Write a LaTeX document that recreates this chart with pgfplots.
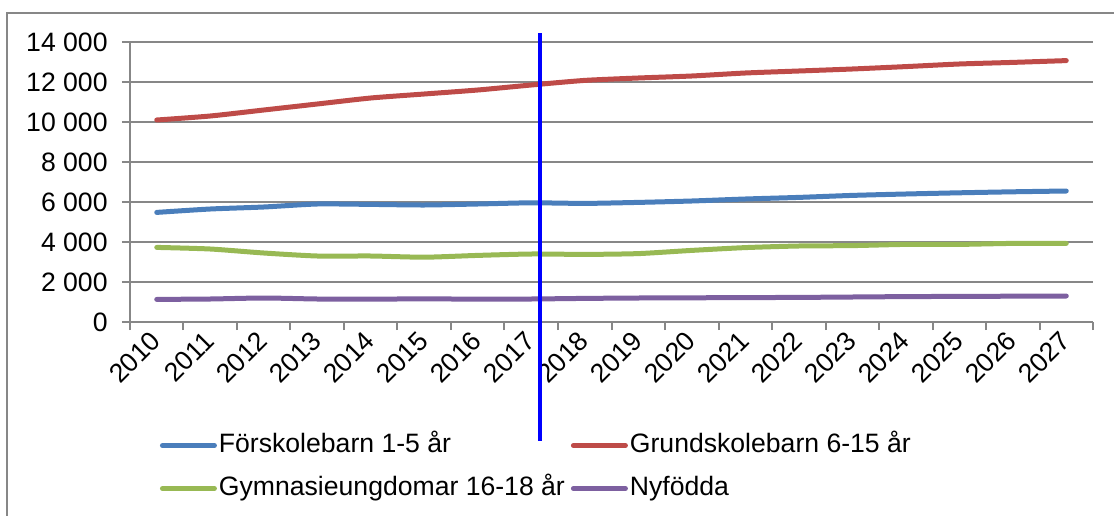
\documentclass[border=0pt]{standalone}
\usepackage{fontspec}
\setmainfont{Liberation Sans}
\usepackage{pgfplots}
\pgfplotsset{compat=1.18}

\definecolor{cBlue}{HTML}{4A7EBB}
\definecolor{cRed}{HTML}{BE4B48}
\definecolor{cGreen}{HTML}{98B954}
\definecolor{cPurple}{HTML}{7D60A0}
\definecolor{cGrid}{HTML}{878787}

\newcommand\cf{\fontsize{13.3pt}{16pt}\selectfont}

\begin{document}
\begin{tikzpicture}
\useasboundingbox (-65pt,-96.5pt) rectangle (492pt,161pt);
\draw[cGrid, line width=0.75pt] (-61.5pt,-100pt) -- (-61.5pt,154.5pt) -- (495pt,154.5pt);
\begin{axis}[
  at={(0,0)}, anchor=south west,
  width=481.5pt, height=140pt, scale only axis,
  xmin=-0.5, xmax=17.5, ymin=0, ymax=14000,
  clip=false,
  axis x line*=bottom, axis y line*=left,
  axis line style={-, cGrid, line width=1pt},
  tick align=outside,
  major tick length=4pt,
  tick style={cGrid, line width=1pt},
  ytick={0,2000,...,14000},
  scaled y ticks=false,
  ymajorgrids, grid style={cGrid, line width=1pt},
  xtick={-0.5,0.5,...,17.5}, xticklabels={},
  extra x ticks={0,...,17},
  extra x tick labels={2010,2011,2012,2013,2014,2015,2016,2017,2018,2019,2020,2021,2022,2023,2024,2025,2026,2027},
  extra x tick style={major tick length=0pt, grid=none,
    tick label style={xshift=-3.9pt, yshift=-3.5pt, rotate=45, anchor=north east, inner sep=0pt}},
  tick label style={font=\cf},
  yticklabel style={anchor=east, inner sep=0pt, xshift=-7pt},
  /pgf/number format/.cd, 1000 sep={\ }, assume math mode=true, /pgfplots/.cd,
  legend columns=2,
  legend cell align=left,
  legend image code/.code={\draw[#1] (0pt,0pt) -- (26pt,0pt);},
  legend style={font=\cf, draw=none, fill=none, inner sep=0pt, outer sep=0pt,
    at={(axis description cs:0.0311,-0.518)}, anchor=west,
    row sep=10pt,
    nodes={inner sep=0pt, text height=9pt, text depth=2.5pt},
    /tikz/every odd column/.append style={column sep=1pt},
    /tikz/every even column/.append style={column sep=3pt}},
  every axis plot/.append style={line width=2.5pt, line cap=round, line join=round, smooth, tension=0.4},
]
\addplot[cBlue] coordinates {
  (0,5480) (1,5650) (2,5750) (3,5900) (4,5880) (5,5850) (6,5900) (7,5960) (8,5930)
  (9,5980) (10,6050) (11,6150) (12,6230) (13,6330) (14,6400) (15,6460) (16,6510) (17,6550)};
\addlegendentry{Förskolebarn 1-5 år}
\addplot[cRed] coordinates {
  (0,10100) (1,10300) (2,10600) (3,10900) (4,11200) (5,11400) (6,11600) (7,11850) (8,12080)
  (9,12200) (10,12300) (11,12450) (12,12550) (13,12650) (14,12770) (15,12900) (16,12980) (17,13070)};
\addlegendentry{Grundskolebarn 6-15 år}
\addplot[cGreen] coordinates {
  (0,3730) (1,3650) (2,3450) (3,3300) (4,3300) (5,3240) (6,3330) (7,3400) (8,3380)
  (9,3420) (10,3580) (11,3720) (12,3800) (13,3820) (14,3880) (15,3880) (16,3930) (17,3930)};
\addlegendentry{Gymnasieungdomar 16-18 år}
\addplot[cPurple] coordinates {
  (0,1130) (1,1150) (2,1200) (3,1150) (4,1140) (5,1160) (6,1140) (7,1150) (8,1180)
  (9,1200) (10,1210) (11,1220) (12,1230) (13,1250) (14,1270) (15,1280) (16,1290) (17,1300)};
\addlegendentry{Nyfödda}
\addplot[blue, line width=2pt, line cap=butt, forget plot] coordinates {(7.16,14450) (7.16,-5960)};
\end{axis}
\end{tikzpicture}
\end{document}
